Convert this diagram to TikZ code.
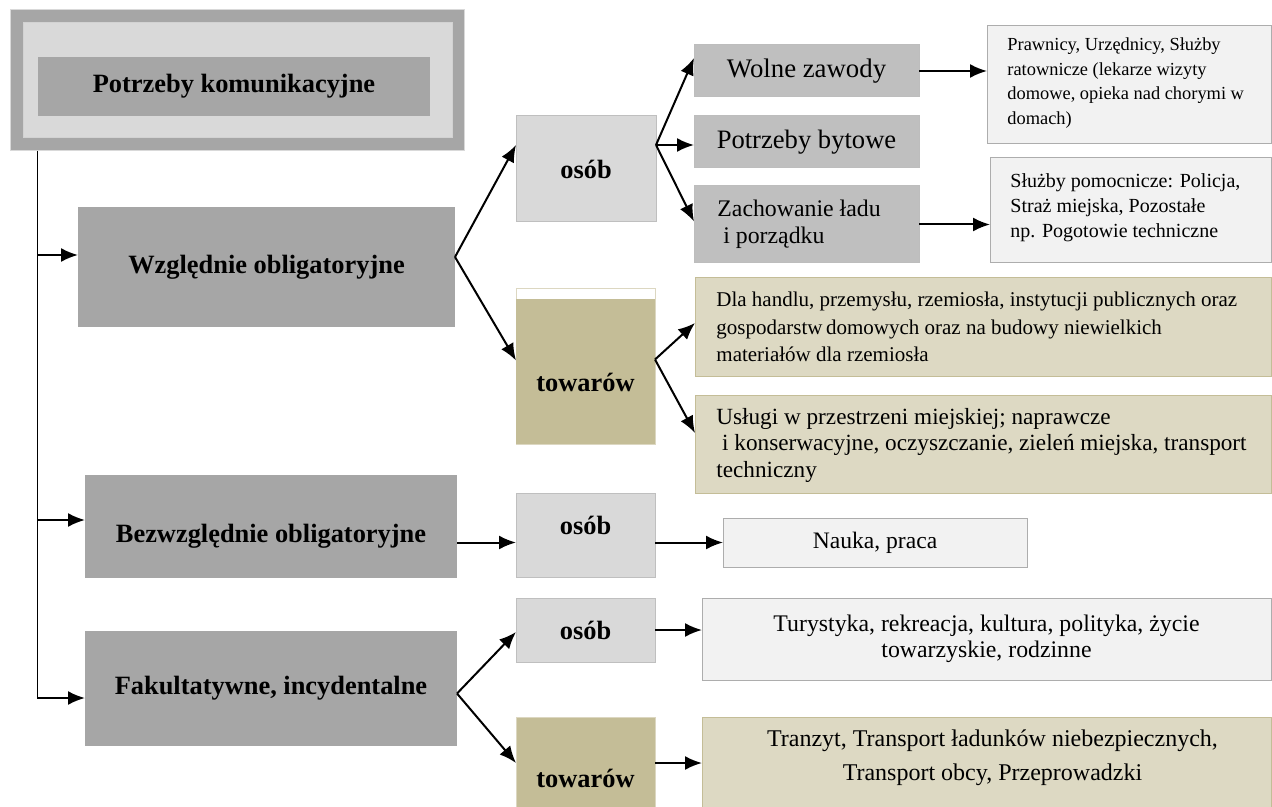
\documentclass[tikz,border=0pt]{standalone}
\usepackage{fontspec}
\setmainfont{Liberation Serif}
\usepackage{tikz}
\usetikzlibrary{arrows.meta}
\definecolor{darkgr}{HTML}{A6A6A6}
\definecolor{midgr}{HTML}{BFBFBF}
\definecolor{lightgr}{HTML}{D9D9D9}
\definecolor{palegr}{HTML}{F2F2F2}
\definecolor{edgegr}{HTML}{ADADAD}
\definecolor{khaki}{HTML}{C4BD97}
\definecolor{palekhaki}{HTML}{DDD9C3}
\newcommand{\bsize}     {\fontsize{13.2}{15.8}\selectfont\bfseries}
\newcommand{\fsz}[2]    {\fontsize{#1}{#2}\selectfont}

\begin{document}
\begin{tikzpicture}[x=0.5pt,y=-0.5pt,
    sz/.style 2 args={minimum width=#1*0.5pt,minimum height=#2*0.5pt},
    box/.style={rectangle,inner sep=0pt,outer sep=0pt,line width=0.5pt},
    darkbox/.style={box,fill=darkgr,font=\bsize},
    greybox/.style={box,fill=lightgr,draw=midgr,font=\bsize},
    midbox/.style={box,fill=midgr,draw=edgegr!80},
    palebox/.style={box,fill=palegr,draw=edgegr},
    khakibox/.style={box,fill=khaki,draw=khaki!60},
    tanbox/.style={box,fill=palekhaki,draw=khaki},
    lefttxt/.style={inner sep=0pt,anchor=west,align=left},
    arr/.style={-{Latex[length=8.5pt,width=7pt]},line width=1pt},
    trunk/.style={line width=0.5pt}]
     \useasboundingbox (0,0) rectangle (1272,807);
     % root
     \node[box,fill=darkgr,draw=midgr!60,sz={454}{141}] (root) at (237,80.5) {};
     \node[box,fill=lightgr,draw=midgr!70,sz={429}{115}] (rootin) at (237.5,80.5) {};
     \node[darkbox,sz={392}{59}] (rootlbl) at (234,86.5) {Potrzeby komunikacyjne};
     % level 1
     \node[darkbox,sz={377}{120}] (wzgl) at (266.5,267) {Względnie obligatoryjne};
     \node[darkbox,sz={372}{103},label={[font=\bsize,yshift=-5pt]center:Bezwzględnie obligatoryjne}] (bezw) at (271,526.5) {};
     \node[darkbox,sz={372}{115}] (fakul) at (271,688.5) {Fakultatywne, incydentalne};
     % level 2
     \node[greybox,sz={140}{106}] (osobA) at (586,169) {osób};
     \node[box,fill=white,draw=khaki!60,sz={139}{155}] (towA) at (585.5,366.5) {};
     \fill[khaki] (towA.south west) rectangle ([yshift=-5pt]towA.north east);
     \node[font=\bsize] (towAlbl) at (585.5,382) {towarów};
     \node[greybox,sz={139}{84},label={[font=\bsize,yshift=5pt]center:osób}] (osobB) at (585.5,535) {};
     \node[greybox,sz={139}{64}] (osobC) at (585.5,630) {osób};
     \node[khakibox,sz={139}{92},label={[font=\bsize,yshift=-7.5pt]center:towarów}] (towB) at (585.5,763) {};
     % level 3
     \node[midbox,sz={225}{52},font=\fsz{13.4}{16}] (wolne) at (806.5,71) {Wolne zawody};
     \node[midbox,sz={225}{52},font=\fsz{13.3}{16}] (bytowe) at (806.5,142) {Potrzeby bytowe};
     \node[midbox,sz={225}{77},label={[lefttxt,font=\fsz{11.9}{13.5},xshift=11.5pt]west:{Zachowanie ładu\\\hspace*{0.25em}i porządku}}] (lad) at (806.5,224.5) {};
     \node[palebox,sz={284}{118},label={[lefttxt,font=\fsz{9.2}{12.2},xshift=10pt,yshift=1pt]west:{Prawnicy, Urzędnicy, Służby\\ratownicze (lekarze wizyty\\domowe, opieka nad chorymi w\\domach)}}] (prawn) at (1129,85) {};
     \node[palebox,sz={281}{105},label={[lefttxt,font=\fsz{10}{12.5},xshift=10pt,yshift=1.5pt]west:{Służby pomocnicze: Policja,\\Straż miejska, Pozostałe\\np. Pogotowie techniczne}}] (sluzby) at (1130.5,210.5) {};
     \node[tanbox,sz={576}{98},label={[lefttxt,font=\fsz{10.5}{13.75},xshift=10.5pt]west:{Dla handlu, przemysłu, rzemiosła, instytucji publicznych oraz\\gospodarstw\,domowych oraz na budowy niewielkich\\materiałów dla rzemiosła}}] (handel) at (983,327) {};
     \node[tanbox,sz={576}{98},label={[lefttxt,font=\fsz{11.6}{13.25},xshift=10.5pt,yshift=-0.5pt]west:{Usługi w przestrzeni miejskiej; naprawcze\\\hspace*{0.25em}i konserwacyjne, oczyszczanie, zieleń miejska, transport\\techniczny}}] (uslugi) at (983,444) {};
     \node[palebox,sz={304}{49},font=\fsz{11.8}{14}] (nauka) at (875,542.5) {Nauka, praca};
     \node[palebox,sz={569}{82},font=\fsz{11.9}{13},align=center] (turyst) at (986.5,639)
          {Turystyka, rekreacja, kultura, polityka, życie\\towarzyskie, rodzinne};
     \node[tanbox,sz={569}{92},label={[font=\fsz{12}{17},align=center,xshift=3pt,yshift=2.5pt]center:{Tranzyt, Transport ładunków niebezpiecznych,\\Transport obcy, Przeprowadzki}}] (tranzyt) at (986.5,763) {};
     % trunk
     \coordinate (trk) at ([xshift=13.5pt]root.south west);
     \coordinate (j1) at (37,255);
     \coordinate (j2) at (37,520);
     \coordinate (j3) at (37,698);
     \draw[trunk] (trk) -- (j3);
     \draw[arr] (j1) -- (j1 -| wzgl.west);
     \draw[arr] (j2) -- (j2 -| bezw.west);
     \draw[arr] (j3) -- (j3 -| fakul.west);
     % connectors
     \coordinate (wzout) at ([yshift=5pt]wzgl.east);
     \coordinate (osAout) at ([yshift=12pt]osobA.east);
     \coordinate (twAout) at ([yshift=3.5pt]towA.east);
     \coordinate (bzout) at ([yshift=-8pt]bezw.east);
     \coordinate (fkout) at ([yshift=-2.5pt]fakul.east);
     \draw[arr] (wzout) -- ([yshift=12pt]osobA.west);
     \draw[arr] (wzout) -- ([yshift=3pt]towA.west);
     \draw[arr] (osAout) -- ([yshift=6.5pt]wolne.west);
     \draw[arr] (osAout) -- (osAout -| bytowe.west);
     \draw[arr] (osAout) -- ([yshift=1.5pt]lad.west);
     \draw[arr] (wolne.east) -- (wolne.east -| prawn.west);
     \draw[arr] (lad.east) -- (lad.east -| sluzby.west);
     \draw[arr] (twAout) -- ([yshift=2pt]handel.west);
     \draw[arr] (twAout) -- ([yshift=5.5pt]uslugi.west);
     \draw[arr] (bzout) -- (bzout -| osobB.west);
     \draw[arr] (osobB.east |- nauka.west) -- (nauka.west);
     \draw[arr] (fkout) -- ([yshift=-1pt]osobC.west);
     \draw[arr] (fkout) -- (towB.west);
     \draw[arr] (osobC.east) -- (osobC.east -| turyst.west);
     \draw[arr] (towB.east) -- (towB.east -| tranzyt.west);
\end{tikzpicture}
\end{document}
